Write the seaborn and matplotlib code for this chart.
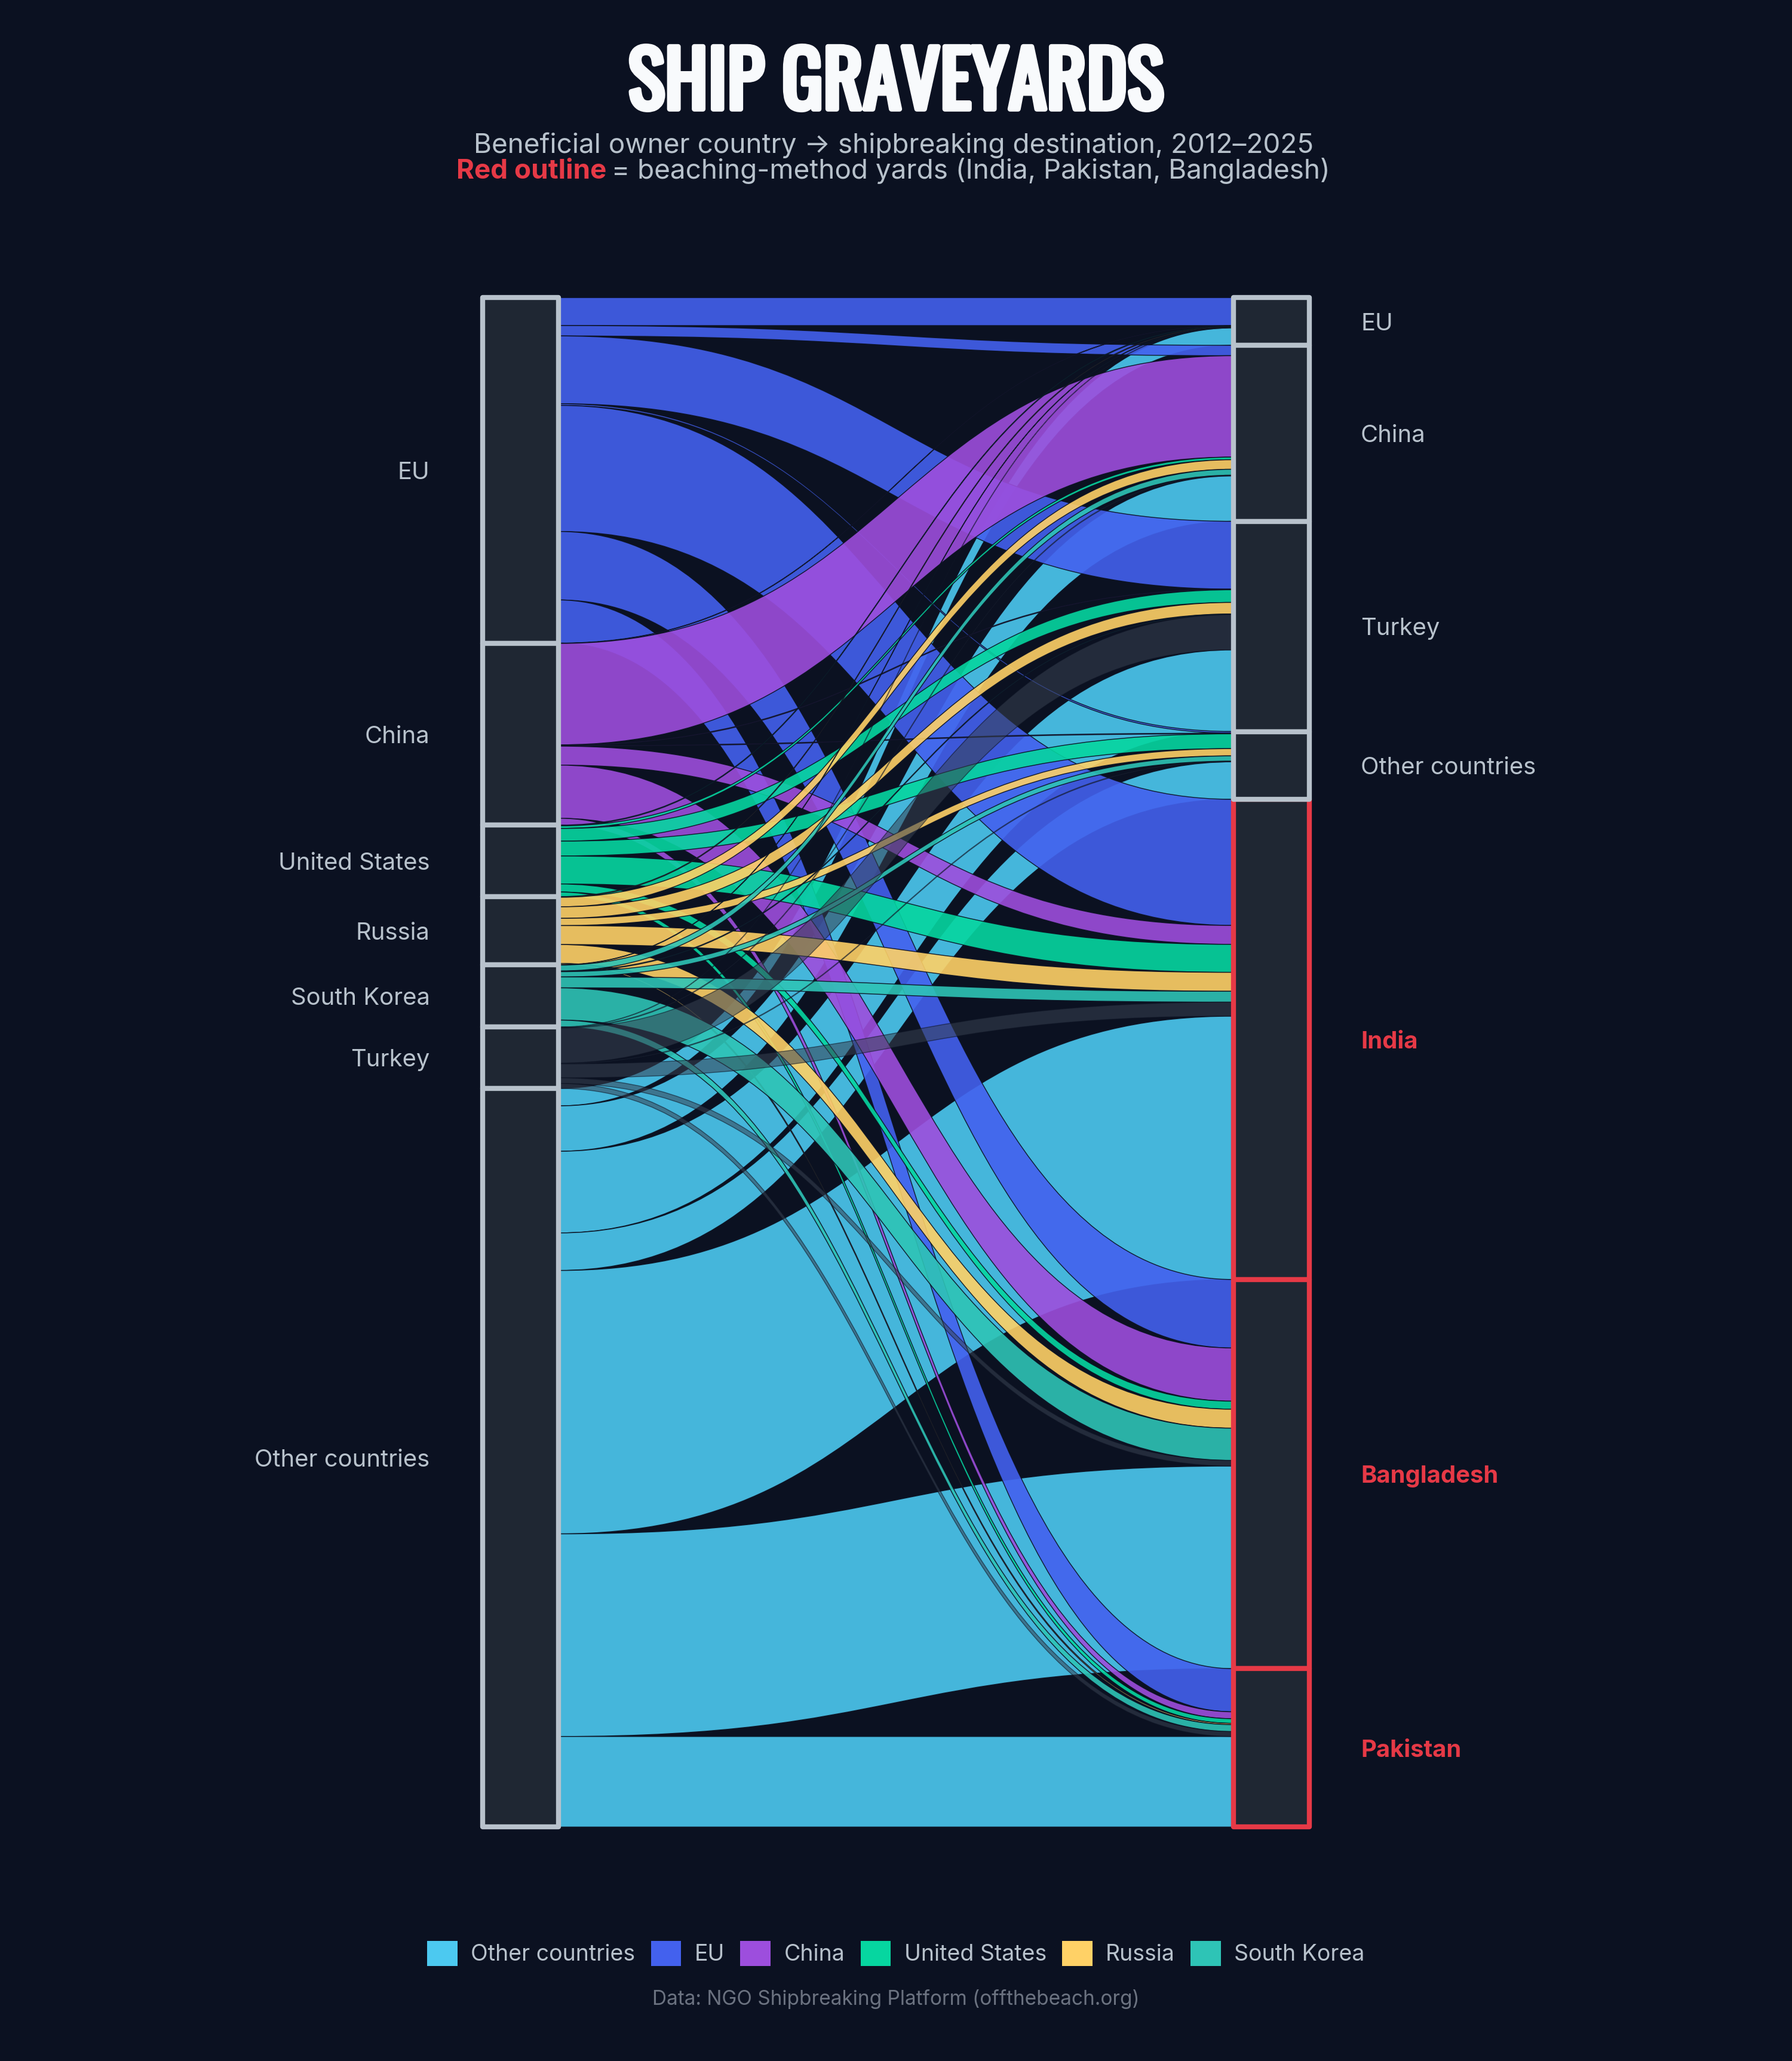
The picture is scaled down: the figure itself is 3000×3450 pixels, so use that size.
#!/usr/bin/env python3
"""
Ship graveyards: beneficial owner country -> shipbreaking destination (alluvial chart).
"""

import numpy as np
import pandas as pd
import matplotlib
matplotlib.use('Agg')
import matplotlib.pyplot as plt
import matplotlib.patheffects as pe
from matplotlib.path import Path
from matplotlib.patches import PathPatch, Rectangle, Patch
import seaborn as sns

# ---- data (ships) ----
sources = ['EU', 'China', 'United States', 'Russia', 'South Korea', 'Turkey', 'Other countries']
targets = ['EU', 'China', 'Turkey', 'Other countries', 'India', 'Bangladesh', 'Pakistan']

# ships per source, in the order of `targets`
eu_ships = [170, 63, 412, 10, 766, 416, 262]
china_ships = [2, 616, 4, 4, 115, 323, 42]
us_ships = [4, 16, 77, 90, 170, 49, 28]
russia_ships = [4, 58, 70, 44, 115, 115, 8]
korea_ships = [2, 36, 4, 32, 66, 196, 42]
turkey_ships = [2, 4, 214, 4, 85, 34, 30]
other_ships = [106, 276, 496, 228, 1600, 1231, 550]

beaching = ['India', 'Bangladesh', 'Pakistan']
legend_order = ['Other countries', 'EU', 'China', 'United States', 'Russia', 'South Korea']
legend_colors = ['#4CC9F0', '#4361EE', '#9D4EDD', '#06D6A0', '#FFD166', '#2EC4B6']

flows = pd.DataFrame([eu_ships, china_ships, us_ships, russia_ships,
                      korea_ships, turkey_ships, other_ships],
                     index=sources, columns=targets)

# ---- style ----
BG = '#0B1121'
NODE_FILL = '#1F2733'
NODE_EDGE = '#B8C2CC'
RED = '#E63946'
TEXT = '#B8C2CC'
TITLE = '#F8FAFC'

sns.set_theme(style='dark', rc={'figure.facecolor': BG, 'axes.facecolor': BG,
                                'savefig.facecolor': BG})
plt.rcParams['font.family'] = ['Inter', 'DejaVu Sans']

palette = dict(zip(legend_order, sns.color_palette(legend_colors)))
palette['Turkey'] = '#374151'

fig = plt.figure(figsize=(10, 11.5), dpi=300)
ax = fig.add_axes([0, 0, 1, 1])
W, H = 1363, 1568
ax.set_xlim(0, W)
ax.set_ylim(H, 0)
ax.axis('off')

TOP, BOTTOM = 226.4, 1390.0
LX0, LX1 = 367, 425
RX0, RX1 = 938, 996

k = (BOTTOM - TOP) / flows.values.sum()
src_tot = flows.sum(axis=1)
tgt_tot = flows.sum(axis=0)
src_top = TOP + k * (src_tot.cumsum() - src_tot)
tgt_top = TOP + k * (tgt_tot.cumsum() - tgt_tot)
src_off = flows.cumsum(axis=1) - flows
tgt_off = flows.cumsum(axis=0) - flows


def ribbon(y0a, y0b, y1a, y1b, x0=LX1, x1=RX0):
    xm = (x0 + x1) / 2
    verts = [(x0, y0a), (xm, y0a), (xm, y1a), (x1, y1a),
             (x1, y1b), (xm, y1b), (xm, y0b), (x0, y0b), (x0, y0a)]
    codes = [Path.MOVETO, Path.CURVE4, Path.CURVE4, Path.CURVE4,
             Path.LINETO, Path.CURVE4, Path.CURVE4, Path.CURVE4, Path.CLOSEPOLY]
    return Path(verts, codes)


draw_order = ['Other countries', 'EU', 'China', 'United States', 'Russia', 'South Korea', 'Turkey']
for s in draw_order:
    for t in targets:
        v = flows.loc[s, t]
        if v <= 0:
            continue
        y0a = src_top[s] + k * src_off.loc[s, t]
        y1a = tgt_top[t] + k * tgt_off.loc[s, t]
        h = k * v
        alpha = 0.55 if s == 'Turkey' else 0.9
        ax.add_patch(PathPatch(ribbon(y0a, y0a + h, y1a, y1a + h),
                               facecolor=palette[s], alpha=alpha,
                               edgecolor=BG, lw=0.35, zorder=2))

# ---- nodes ----
for s in sources:
    ax.add_patch(Rectangle((LX0, src_top[s]), LX1 - LX0, k * src_tot[s],
                           facecolor=NODE_FILL, edgecolor=NODE_EDGE, lw=2.0,
                           joinstyle='round', zorder=4))
    ax.text(327, src_top[s] + k * src_tot[s] / 2 + 2, s, ha='right', va='center',
            fontsize=9.6, color=TEXT)

for t in targets:
    red = t in beaching
    ax.add_patch(Rectangle((RX0, tgt_top[t]), RX1 - RX0, k * tgt_tot[t],
                           facecolor=NODE_FILL, edgecolor=RED if red else NODE_EDGE,
                           lw=2.0, joinstyle='round', zorder=3 if red else 4))
    ax.text(1035, tgt_top[t] + k * tgt_tot[t] / 2 + 2, t, ha='left', va='center',
            fontsize=9.6, color=RED if red else TEXT,
            fontweight='bold' if red else 'normal')

# ---- titles ----
# a light stroke widens the condensed title a little towards the reference
ax.text(W / 2, 83, 'SHIP GRAVEYARDS', ha='center', va='baseline', fontsize=31,
        fontweight='bold', color=TITLE,
        family=['Oswald', 'Liberation Sans Narrow', 'DejaVu Sans'],
        path_effects=[pe.withStroke(linewidth=2.0, foreground=TITLE)])
ax.text(W / 2 - 2, 116.5, 'Beneficial owner country \u2192 shipbreaking destination, 2012\u20132025',
        ha='center', va='baseline', fontsize=11, color=TEXT)

renderer = fig.canvas.get_renderer()
px_to_data = W / fig.get_size_inches()[0] / fig.dpi
t_red = ax.text(0, 136, 'Red outline', ha='left', va='baseline', fontsize=11,
                fontweight='bold', color=RED)
t_rest = ax.text(0, 136, '= beaching-method yards (India, Pakistan, Bangladesh)',
                 ha='left', va='baseline', fontsize=11, color=TEXT)
w_red = t_red.get_window_extent(renderer).width * px_to_data
w_rest = t_rest.get_window_extent(renderer).width * px_to_data
gap = 4
x_start = W / 2 - 2 - (w_red + gap + w_rest) / 2
t_red.set_x(x_start)
t_rest.set_x(x_start + w_red + gap)

# ---- legend and source ----
handles = [Patch(facecolor=palette[c], edgecolor='none') for c in legend_order]
fig.legend(handles, legend_order, loc='center', bbox_to_anchor=(0.5, 1 - 1486 / H),
           ncol=6, frameon=False, fontsize=9.0, handlelength=1.35, handleheight=1.35,
           handletextpad=0.6, columnspacing=0.7, labelcolor=TEXT)

ax.text(W / 2, 1521, 'Data: NGO Shipbreaking Platform (offthebeach.org)', ha='center',
        va='center', fontsize=8, color='#6B7280')

fig.savefig('out.png', dpi=300, facecolor=BG)
